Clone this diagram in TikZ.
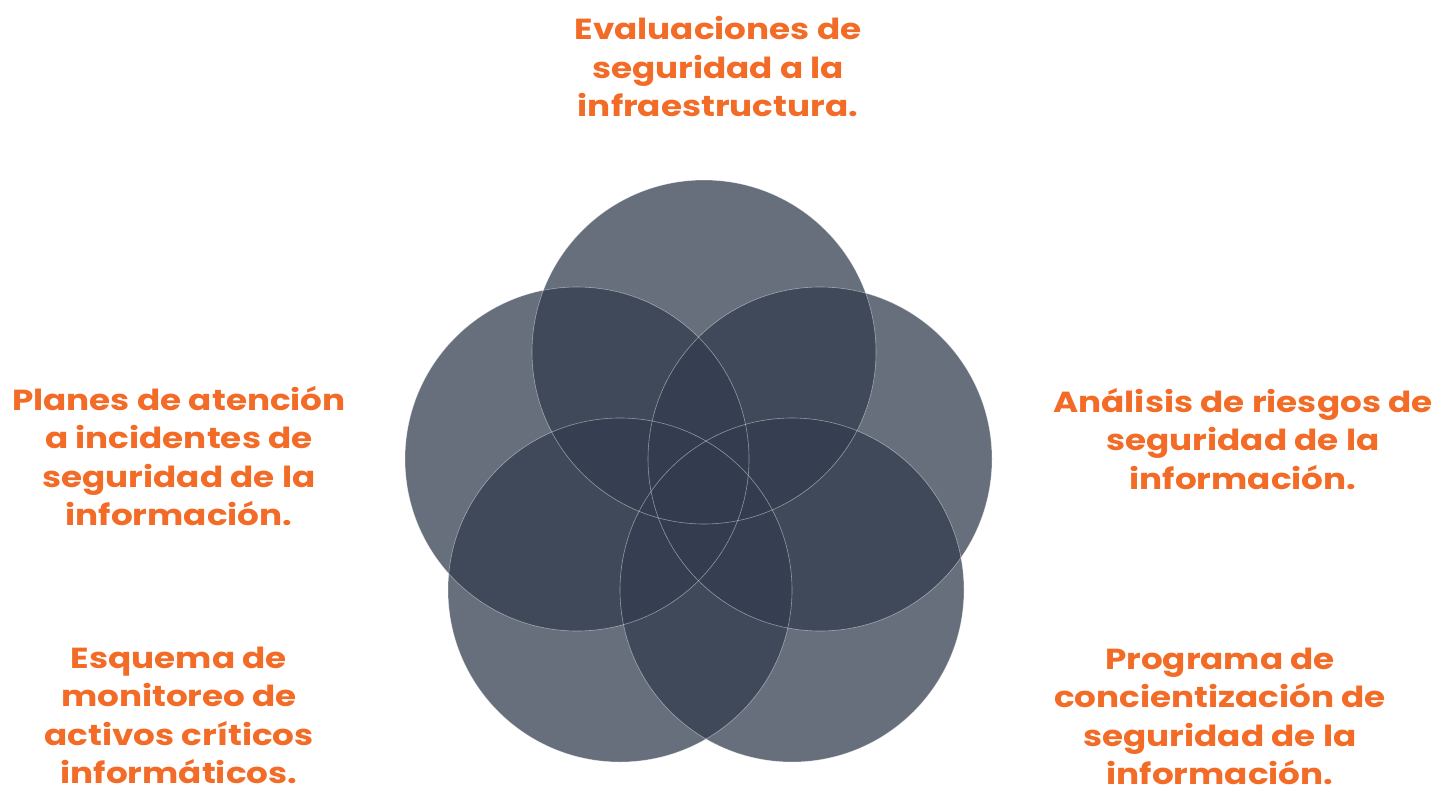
\documentclass[tikz,border=0pt]{standalone}
\usepackage{fontspec}
\setmainfont{Poppins}
\definecolor{lblorange}{RGB}{242,108,40}
\definecolor{circfill}{RGB}{50,60,78}
\newcommand{\lblstack}[1]{\scalebox{1.18}[1]{\vtop{\baselineskip=38.5pt\lineskiplimit=-100pt\halign{\hfil##\hfil\cr#1\crcr}}}}
\begin{document}
\begin{tikzpicture}[x=1pt,y=-1pt,
  petal/.style={fill=circfill,fill opacity=0.74,draw=none},
  petalline/.style={draw=white,draw opacity=0.45,line width=0.6pt},
  lbl/.style={anchor=base,inner sep=0pt,text=lblorange,font=\fontsize{29}{38.5}\selectfont\bfseries}]
\useasboundingbox (0,0) rectangle (1442,784);
\coordinate (cT) at (704,352);
\coordinate (cL) at (577,459);
\coordinate (cR) at (820,459);
\coordinate (cLL) at (620,590);
\coordinate (cLR) at (792,590);
\foreach \c in {cT,cL,cR,cLL,cLR}{\fill[petal] (\c) circle[radius=172];}
\foreach \c in {cT,cL,cR,cLL,cLR}{\draw[petalline] (\c) circle[radius=172];}
\node[lbl] (tTop) at (718,40) {\lblstack{Evaluaciones de\cr seguridad a la\cr infraestructura.}};
\node[lbl] (tLeft) at (179,410) {\lblstack{Planes de atención\cr a incidentes de\cr seguridad de la\cr información.}};
\node[lbl] (tRight) at (1243,412) {\lblstack{Análisis de riesgos de\cr seguridad de la\cr información.}};
\node[lbl] (tBL) at (179,668) {\lblstack{Esquema de\cr monitoreo de\cr activos críticos\cr informáticos.}};
\node[lbl] (tBR) at (1220,669) {\lblstack{Programa de\cr concientización de\cr seguridad de la\cr información.}};
\end{tikzpicture}
\end{document}
